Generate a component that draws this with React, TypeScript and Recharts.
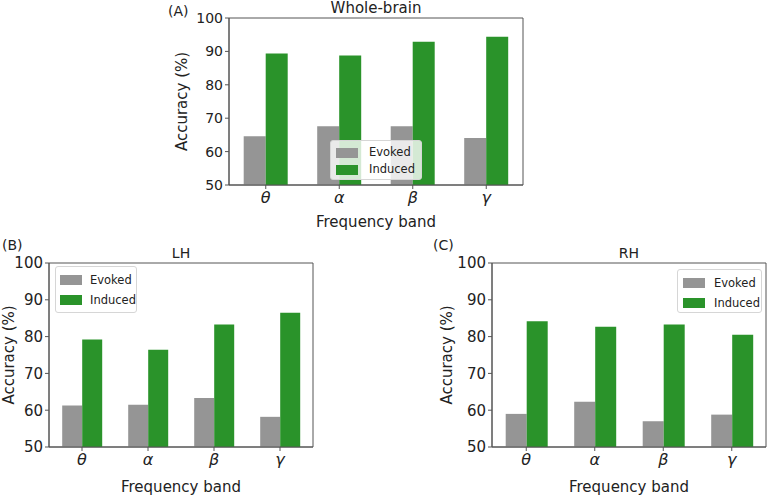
import { Bar, BarChart, Legend, ReferenceArea, XAxis, YAxis } from 'recharts';

// Decoding accuracy per frequency band.
const BANDS = ['θ', 'α', 'β', 'γ'];
const Y_TICKS = [50, 60, 70, 80, 90, 100];

const WHOLE_EVOKED = [64.6, 67.6, 67.6, 64.1];
const WHOLE_INDUCED = [89.4, 88.8, 92.9, 94.4];
const LH_EVOKED = [61.3, 61.5, 63.3, 58.2];
const LH_INDUCED = [79.2, 76.4, 83.3, 86.5];
const RH_EVOKED = [59.0, 62.3, 57.0, 58.8];
const RH_INDUCED = [84.2, 82.7, 83.3, 80.5];

const EVOKED_COLOR = '#959595';
const INDUCED_COLOR = '#2a932a';
const SPINE = '#555555';
const INK = '#222222';
const FONT = '"DejaVu Sans", sans-serif';

const toRows = (evoked: number[], induced: number[]) =>
  BANDS.map((band, i) => ({ band, evoked: evoked[i], induced: induced[i] }));

interface LegendSpot {
  left: number;
  top: number;
  width: number;
  height: number;
  rowH: number;
  swatchX: number;
  textX: number;
}

function LegendBox({ payload, spot }: { payload?: any[]; spot: LegendSpot }) {
  return (
    <div
      style={{
        boxSizing: 'border-box',
        width: spot.width,
        height: spot.height,
        border: '1px solid #d6d6d6',
        borderRadius: 3,
        background: 'rgba(255,255,255,0.8)',
        paddingTop: 3,
        fontFamily: FONT,
        fontSize: 11.5,
        color: INK,
      }}
    >
      {(payload ?? []).map((item) => (
        <div key={item.value} style={{ position: 'relative', height: spot.rowH }}>
          <span
            style={{
              position: 'absolute',
              left: spot.swatchX,
              top: (spot.rowH - 10) / 2,
              width: 22,
              height: 10,
              background: item.color,
            }}
          />
          <span style={{ position: 'absolute', left: spot.textX, top: 0, lineHeight: `${spot.rowH}px` }}>
            {item.value}
          </span>
        </div>
      ))}
    </div>
  );
}

interface PanelProps {
  evoked: number[];
  induced: number[];
  left: number;
  top: number;
  width: number;
  height: number;
  marginTop: number;
  marginRight: number;
  yAxisWidth: number;
  xAxisHeight: number;
  yLabelOffset: number;
  xLabelOffset: number;
  tickSize: number;
  labelSize: number;
  legend: LegendSpot;
}

function Panel(p: PanelProps) {
  const data = toRows(p.evoked, p.induced);
  return (
    <div style={{ position: 'absolute', left: p.left, top: p.top }}>
      <BarChart
        width={p.width}
        height={p.height}
        data={data}
        margin={{ top: p.marginTop, right: p.marginRight, left: 0, bottom: 0 }}
        barCategoryGap="20%"
        barGap={0}
      >
        <XAxis
          dataKey="band"
          height={p.xAxisHeight}
          axisLine={{ stroke: SPINE }}
          tickLine={{ stroke: SPINE }}
          tickSize={4}
          tickMargin={3}
          tick={{ fill: INK, fontSize: 16, fontStyle: 'italic', fontFamily: FONT }}
          label={{
            value: 'Frequency band',
            position: 'insideBottom',
            offset: p.xLabelOffset,
            fill: INK,
            fontSize: p.labelSize,
            fontFamily: FONT,
          }}
        />
        <YAxis
          width={p.yAxisWidth}
          domain={[50, 100]}
          ticks={Y_TICKS}
          allowDataOverflow
          axisLine={{ stroke: SPINE }}
          tickLine={{ stroke: SPINE }}
          tickSize={4}
          tickMargin={2}
          tick={{ fill: INK, fontSize: p.tickSize, fontFamily: FONT }}
          label={{
            value: 'Accuracy (%)',
            angle: -90,
            position: 'insideLeft',
            offset: p.yLabelOffset,
            fill: INK,
            fontSize: p.labelSize,
            fontFamily: FONT,
            style: { textAnchor: 'middle' },
          }}
        />
        <Legend
          layout="horizontal"
          align="center"
          verticalAlign="middle"
          wrapperStyle={{ left: p.legend.left, top: p.legend.top, width: p.legend.width, height: p.legend.height }}
          content={(props: any) => <LegendBox payload={props.payload} spot={p.legend} />}
        />
        <Bar dataKey="evoked" name="Evoked" fill={EVOKED_COLOR} isAnimationActive={false} />
        <Bar dataKey="induced" name="Induced" fill={INDUCED_COLOR} isAnimationActive={false} />
        {/* full frame around the plot area, like matplotlib's four spines */}
        <ReferenceArea y1={50} y2={100} fill="none" stroke={SPINE} strokeWidth={1} ifOverflow="visible" />
      </BarChart>
    </div>
  );
}

const textStyle = { fontFamily: FONT, fill: INK } as const;

export default function App() {
  return (
    <div style={{ position: 'absolute', left: 0, top: 0, width: 770, height: 498, background: '#fff', overflow: 'hidden' }}>
      <Panel
        evoked={WHOLE_EVOKED}
        induced={WHOLE_INDUCED}
        left={150}
        top={0}
        width={400}
        height={232}
        marginTop={18}
        marginRight={27}
        yAxisWidth={79}
        xAxisHeight={47}
        yLabelOffset={32}
        xLabelOffset={5}
        tickSize={14}
        labelSize={15}
        legend={{ left: 180, top: 140, width: 92, height: 40, rowH: 17, swatchX: 5, textX: 38 }}
      />
      <Panel
        evoked={LH_EVOKED}
        induced={LH_INDUCED}
        left={0}
        top={235}
        width={340}
        height={263}
        marginTop={28}
        marginRight={27}
        yAxisWidth={49}
        xAxisHeight={51}
        yLabelOffset={9}
        xLabelOffset={6}
        tickSize={15}
        labelSize={15}
        legend={{ left: 55, top: 31, width: 82, height: 47, rowH: 20, swatchX: 4, textX: 34 }}
      />
      <Panel
        evoked={RH_EVOKED}
        induced={RH_INDUCED}
        left={425}
        top={235}
        width={345}
        height={263}
        marginTop={28}
        marginRight={4}
        yAxisWidth={67}
        xAxisHeight={51}
        yLabelOffset={22}
        xLabelOffset={6}
        tickSize={15}
        labelSize={15}
        legend={{ left: 252, top: 34, width: 85, height: 44, rowH: 20, swatchX: 5, textX: 36 }}
      />
      <svg width={770} height={498} style={{ position: 'absolute', left: 0, top: 0, pointerEvents: 'none' }}>
        <text x={168} y={16} fontSize={14} {...textStyle}>(A)</text>
        <text x={376} y={13} fontSize={15} textAnchor="middle" {...textStyle}>Whole-brain</text>
        <text x={2} y={250} fontSize={14} {...textStyle}>(B)</text>
        <text x={181} y={258} fontSize={14} textAnchor="middle" {...textStyle}>LH</text>
        <text x={433} y={250} fontSize={14} {...textStyle}>(C)</text>
        <text x={629} y={258} fontSize={14} textAnchor="middle" {...textStyle}>RH</text>
      </svg>
    </div>
  );
}
